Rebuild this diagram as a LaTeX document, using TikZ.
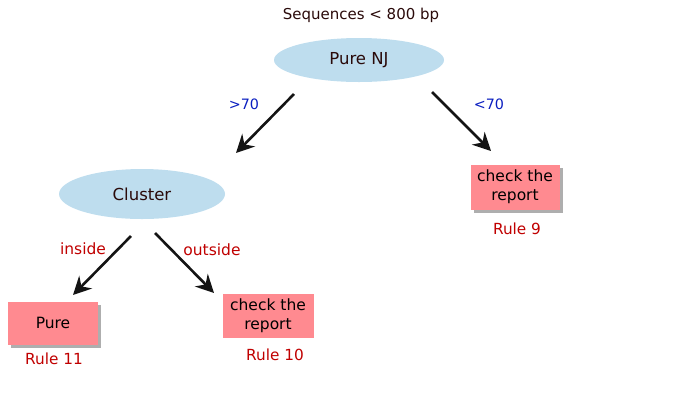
\documentclass[tikz,border=0pt]{standalone}
\usepackage{fontspec}
\setmainfont{DejaVu Sans}
\usetikzlibrary{arrows.meta,shadows,shapes.geometric}
\definecolor{ellblue}{HTML}{BEDDEE}
\definecolor{boxpink}{HTML}{FF8A90}
\definecolor{rulered}{HTML}{C00000}
\definecolor{lblblue}{HTML}{0A1EC0}
\definecolor{txtdark}{HTML}{2A0A0A}
\tikzset{
  ell/.style={ellipse, fill=ellblue, draw=none, inner sep=0pt, text=txtdark, font=\fontsize{16.5}{19}\selectfont},
  pbox/.style={rectangle, fill=boxpink, draw=none, inner sep=0pt, align=center, text=black, font=\fontsize{15.5}{19}\selectfont},
  shbox/.style={pbox, drop shadow={shadow xshift=3pt, shadow yshift=-3pt, fill=black!45, opacity=0.7}},
  rulelbl/.style={text=rulered, font=\fontsize{15.3}{18}\selectfont},
  edgelbl/.style={font=\fontsize{15.5}{18}\selectfont},
  numlbl/.style={text=lblblue, font=\fontsize{14.3}{17}\selectfont},
  arr/.style={line width=2.6pt, -{Stealth[length=18pt,width=18pt,inset=6pt]}, black!92}
}
\begin{document}
\begin{tikzpicture}[x=1pt,y=-1pt]
\useasboundingbox (0,0) rectangle (700,400);
\node[font=\fontsize{15}{18}\selectfont, text=txtdark] (title) at (361,15) {Sequences < 800 bp};
\node[ell, minimum width=170pt, minimum height=44pt] (pnj) at (359,60) {Pure NJ};
\node[ell, minimum width=166pt, minimum height=50pt] (cl) at (142,194) {Cluster};
\node[shbox, minimum width=89pt, minimum height=45pt] (r9box) at (515,187) {check the\\report};
\node[rulelbl] (r9) at (517,229) {Rule 9};
\node[shbox, minimum width=90pt, minimum height=43pt] (purebox) at (53,323) {Pure};
\node[rulelbl] (r11) at (54,359) {Rule 11};
\node[pbox, minimum width=91pt, minimum height=44pt] (r10box) at (268,316) {check the\\report};
\node[rulelbl] (r10) at (275,355) {Rule 10};
\coordinate (a1s) at (294,94); \coordinate (a1e) at (236,153);
\coordinate (a2s) at (432,92); \coordinate (a2e) at (491,151);
\coordinate (a3s) at (131,236); \coordinate (a3e) at (73,295);
\coordinate (a4s) at (155,233); \coordinate (a4e) at (214,293);
\draw[arr] (a1s) -- (a1e);
\draw[arr] (a2s) -- (a2e);
\draw[arr] (a3s) -- (a3e);
\draw[arr] (a4s) -- (a4e);
\node[numlbl] (l1) at (244,104) {>70};
\node[numlbl] (l2) at (489,104) {<70};
\node[edgelbl, text=rulered] (l3) at (83,249) {inside};
\node[edgelbl, text=rulered] (l4) at (212,250) {outside};
\end{tikzpicture}
\end{document}
